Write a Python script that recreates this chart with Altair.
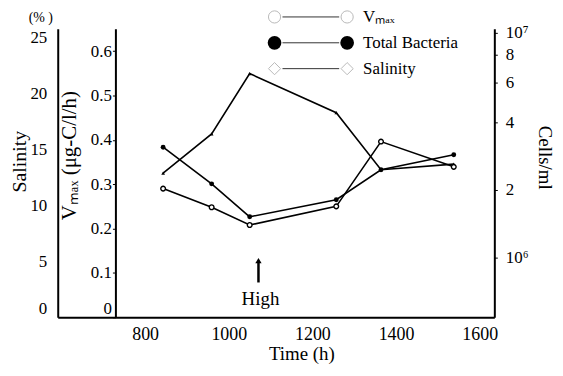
import altair as alt
import pandas as pd

# ---- data ----
time_h = [843, 959, 1050, 1257, 1364, 1538]
salinity = [12.9, 16.4, 21.8, 18.3, 13.2, 13.7]
vmax = [0.290, 0.248, 0.208, 0.250, 0.396, 0.339]
bacteria = [3.10e6, 2.13e6, 1.52e6, 1.81e6, 2.46e6, 2.87e6]

x_ticks = [800, 1000, 1200, 1400, 1600]
salinity_ticks = [0, 5, 10, 15, 20, 25]
vmax_ticks = [0, 0.1, 0.2, 0.3, 0.4, 0.5, 0.6]
cell_ticks = [1e6, 2e6, 4e6, 6e6, 8e6, 1e7]

legend_names = ["Vₘₐₓ", "Total Bacteria", "Salinity"]
high_time = [1071]
high_label = ["High"]
salinity_unit = ["(%  )"]

df = pd.DataFrame({"time": time_h, "salinity": salinity, "vmax": vmax, "bacteria": bacteria})

FONT = "'Liberation Serif', 'Times New Roman', Times, serif"
W, H = 439, 290

common = dict(labelFont=FONT, titleFont=FONT, titleFontWeight="normal", labelFontWeight="normal",
              domainWidth=2, domainColor="black", tickColor="black", labelColor="black",
              titleColor="black", grid=False)

zero_up = {"condition": {"test": "datum.value == 0", "value": "bottom"}, "value": "middle"}

x_axis = alt.Axis(values=x_ticks, format="d", title="Time  (h)", tickSize=0, labelPadding=8,
                  labelFontSize=18, titleFontSize=19, titleX=245, titleY=27,
                  titleBaseline="top", **common)
x_scale = alt.Scale(domain=[591, 1635], nice=False, zero=False)


def xenc(field):
    return alt.X(field, type="quantitative", scale=x_scale, axis=x_axis)


sal = alt.Chart(df).mark_line(
    color="black", strokeWidth=1.6,
    point=alt.OverlayMarkDef(shape="triangle-up", filled=True, color="black", size=14)
).encode(
    x=xenc("time"),
    y=alt.Y("salinity:Q", scale=alt.Scale(domain=[0, 25.8], nice=False, zero=False),
            axis=alt.Axis(orient="left", values=salinity_ticks, title="Salinity",
                          tickSize=0, labelPadding=11, labelFontSize=17, titleFontSize=20,
                          labelBaseline=zero_up,
                          titleX=-38, titleY=133, titleAngle=270, titleBaseline="middle",
                          titleAlign="center", **common))
)

vm = alt.Chart(df).mark_line(
    color="black", strokeWidth=1.6,
    point=alt.OverlayMarkDef(shape="circle", filled=False, fill="white", stroke="black",
                             strokeWidth=1.4, size=22)
).encode(
    x=xenc("time"),
    y=alt.Y("vmax:Q", scale=alt.Scale(domain=[0, 0.65], nice=False, zero=False),
            axis=alt.Axis(orient="left", offset=-58, values=vmax_ticks, format=".1~f",
                          title="Vₘₐₓ  (μg-C/l/h)", tickSize=3, labelPadding=1,
                          labelBaseline=zero_up,
                          labelFontSize=17, titleFontSize=21, titleX=-46, titleY=127,
                          titleAngle=270, titleBaseline="middle", titleAlign="center",
                          **common))
)

bac = alt.Chart(df).mark_line(
    color="black", strokeWidth=1.6,
    point=alt.OverlayMarkDef(shape="circle", filled=True, color="black", size=24)
).encode(
    x=xenc("time"),
    y=alt.Y("bacteria:Q", scale=alt.Scale(type="log", domain=[5.43e5, 1.042e7], nice=False),
            axis=alt.Axis(orient="right", values=cell_ticks,
                          labelExpr="datum.value >= 9.9e6 ? '10⁷' : (datum.value <= 1.01e6 ? '10⁶' : format(datum.value / 1e6, 'd'))",
                          title="Cells/ml", tickSize=3, labelPadding=8, labelFontSize=17,
                          titleFontSize=19, titleX=50, titleY=129, titleAngle=90,
                          titleBaseline="middle", titleAlign="center", **common))
)

# "High" annotation
high_df = pd.DataFrame({"high": high_time, "label": high_label})
high_rule = alt.Chart(high_df).mark_rule(color="black", strokeWidth=2.5).encode(
    x=xenc("high"), y=alt.value(234), y2=alt.value(255))
high_head = alt.Chart(high_df).mark_point(shape="triangle-up", filled=True, color="black",
                                          size=40, opacity=1).encode(
    x=xenc("high"), y=alt.value(233))
high_text = alt.Chart(high_df).mark_text(font=FONT, fontSize=19, baseline="middle",
                                         color="black", dx=2).encode(
    x=xenc("high"), y=alt.value(272), text="label:N")

unit_text = alt.Chart(pd.DataFrame({"u": salinity_unit})).mark_text(
    font=FONT, fontSize=14, color="black", baseline="middle").encode(
    x=alt.value(-17), y=alt.value(-11), text="u:N")

# custom legend
legend_layers = []
leg_y = [-12, 14, 40]
leg_style = [
    dict(shape="circle", filled=False, stroke="#b8b8b8", fill="white", size=150, strokeWidth=1),
    dict(shape="circle", filled=True, color="black", size=190),
    dict(shape="diamond", filled=False, stroke="#b8b8b8", fill="white", size=150, strokeWidth=1),
]
for name, yy, st in zip(legend_names, leg_y, leg_style):
    ldf = pd.DataFrame({"name": [name]})
    base = alt.Chart(ldf)
    legend_layers.append(base.mark_rule(color="#333333", strokeWidth=1).encode(
        x=alt.value(226), x2=alt.value(283), y=alt.value(yy)))
    legend_layers.append(base.mark_point(opacity=1, **st).encode(x=alt.value(218), y=alt.value(yy)))
    legend_layers.append(base.mark_point(opacity=1, **st).encode(x=alt.value(291), y=alt.value(yy)))
    legend_layers.append(base.mark_text(font=FONT, fontSize=17, align="left", baseline="middle",
                                        color="black").encode(
        x=alt.value(307), y=alt.value(yy), text="name:N"))

chart = alt.layer(sal, vm, bac, high_rule, high_head, high_text, unit_text, *legend_layers).resolve_scale(
    y="independent"
).properties(
    width=W, height=H,
    padding={"left": 50, "top": 20, "right": 61, "bottom": 50},
    autosize=alt.AutoSizeParams(type="none"),
    background="white",
).configure_view(stroke=None).configure_axis(
    grid=False, domainColor="black", tickColor="black", labelColor="black",
    titleColor="black", labelFont=FONT, titleFont=FONT, titleFontWeight="normal",
).configure_text(font=FONT)

chart.save("out.html", embed_options={"renderer": "svg", "actions": False})
